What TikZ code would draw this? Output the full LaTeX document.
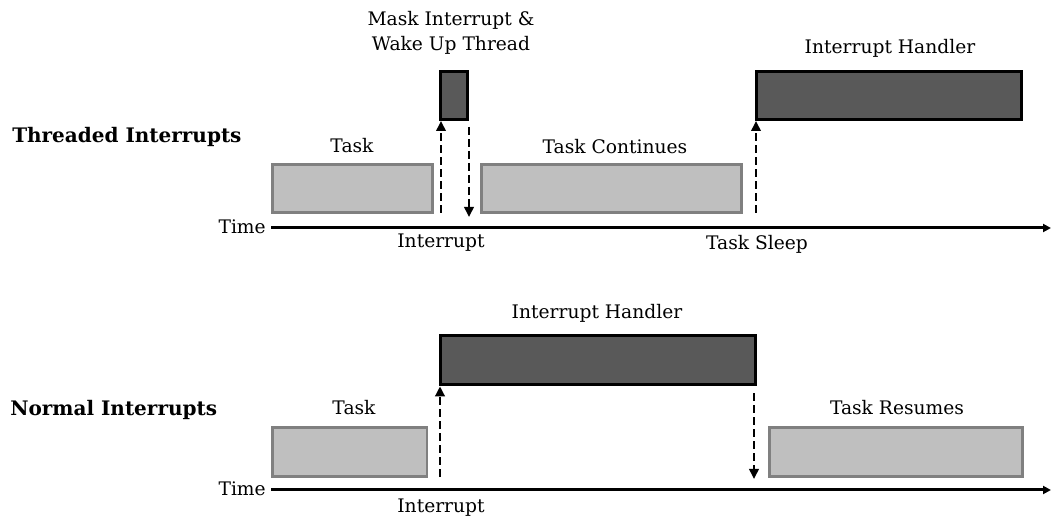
\documentclass[tikz,border=0pt]{standalone}
\usepackage{fontspec}
\setmainfont{DejaVu Serif}
\usetikzlibrary{arrows.meta}
\begin{document}
\begin{tikzpicture}[x=0.75pt,y=-0.75pt,
  lbl/.style={inner sep=0pt,font=\fontsize{14}{16}\selectfont},
  ttl/.style={inner sep=0pt,anchor=west,font=\fontsize{15}{17}\selectfont\bfseries},
  taskbox/.style={draw=black!50,fill=black!25,line width=2pt,inner sep=0pt,anchor=north west},
  irqbox/.style={draw=black,fill=black!65,line width=2.25pt,inner sep=0pt,anchor=north west},
  sig/.style={dashed,dash pattern=on 6pt off 3pt,line width=2pt,-{Triangle[length=7.5pt,width=7pt]}},
  axis/.style={line width=2.25pt,-{Triangle[length=6pt,width=6pt]}}]
\useasboundingbox (0,0) rectangle (1051,520);
% ---------- Threaded interrupts ----------
\node[ttl] (t1) at (12,137) {Threaded Interrupts};
\node[taskbox,minimum width=120pt,minimum height=36pt] (task1) at (271,163) {};
\node[lbl] (task1l) at (352,146) {Task};
\node[irqbox,minimum width=20pt,minimum height=36pt] (mask) at (439,70) {};
\node[lbl,align=center] (maskl) at (451,33) {Mask Interrupt \&\\[3pt]Wake Up Thread};
\node[taskbox,minimum width=195pt,minimum height=36pt] (cont) at (480,163) {};
\node[lbl] (contl) at (615,147) {Task Continues};
\node[irqbox,minimum width=199pt,minimum height=36pt] (h1) at (755,70) {};
\node[lbl] (h1l) at (890,48) {Interrupt Handler};
\coordinate (ax1s) at (271,228);
\coordinate (ax1e) at (1051,228);
\draw[axis] (ax1s) -- (ax1e);
\node[lbl,anchor=east] (time1) at (266,227) {Time};
\node[lbl] (int1) at (441,243) {Interrupt};
\node[lbl] (sleep) at (757,244) {Task Sleep};
\coordinate (u1) at (441,213);
\coordinate (d1e) at (469,217);
\coordinate (u2) at (756,213);
\draw[sig] (u1) -- (u1 |- mask.south);
\draw[sig] (d1e |- mask.south) ++(0,6) -- (d1e);
\draw[sig] (u2) -- (u2 |- h1.south);
% ---------- Normal interrupts ----------
\node[ttl] (t2) at (10,410) {Normal Interrupts};
\node[irqbox,minimum width=236pt,minimum height=37pt] (h2) at (439,334) {};
\node[lbl] (h2l) at (597,313) {Interrupt Handler};
\node[taskbox,minimum width=116pt,minimum height=37pt] (task2) at (271,426) {};
\node[lbl] (task2l) at (354,408) {Task};
\node[taskbox,minimum width=190pt,minimum height=37pt] (res) at (768,426) {};
\node[lbl] (resl) at (897,408) {Task Resumes};
\coordinate (ax2s) at (271,490);
\coordinate (ax2e) at (1051,490);
\draw[axis] (ax2s) -- (ax2e);
\node[lbl,anchor=east] (time2) at (266,489) {Time};
\node[lbl] (int2) at (441,508) {Interrupt};
\coordinate (u3) at (440,477);
\coordinate (d3e) at (754,479);
\draw[sig] (u3) -- (u3 |- h2.south);
\draw[sig] (d3e |- h2.south) ++(0,7) -- (d3e);
\end{tikzpicture}
\end{document}
